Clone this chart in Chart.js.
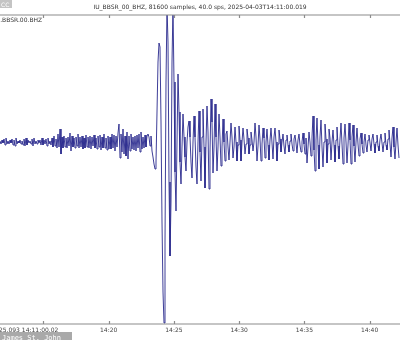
<!DOCTYPE html>
<html>
<head>
<meta charset="utf-8">
<script src="https://cdn.jsdelivr.net/npm/chart.js@4/dist/chart.umd.min.js"></script>
<style>
  html, body { margin: 0; padding: 0; background: #fff; }
  #wrap { position: relative; width: 400px; height: 340px; }
</style>
</head>
<body>
<div id="wrap"><canvas id="seismo" width="400" height="340"></canvas></div>
<script>
// trace: IU.BBSR.00.BHZ, seconds after 14:11:00, one value every 4.6 s
const traceTitle = 'IU_BBSR_00_BHZ, 81600 samples, 40.0 sps, 2025-04-03T14:11:00.019';
const traceId = 'IU.BBSR.00.BHZ';
const startSec = 40;
const stepSec = 4.6;
const counts = [
  1,-2,2,-1,3,-3,4,-2,1,-2,
  2,-1,3,-3,2,-4,4,-2,1,-1,
  2,-2,1,-3,3,-4,4,-3,2,-1,
  1,-2,3,-4,4,-2,1,-2,2,-1,
  2,-3,4,-3,2,-2,3,-4,4,-2,
  1,-3,4,-5,6,-4,3,-6,8,-5,
  13,-12,5,-6,6,-5,4,-6,5,-4,
  9,-9,6,-5,4,-6,5,-4,8,-6,
  5,-5,6,-7,4,-6,7,-5,5,-6,
  6,-7,5,-4,7,-6,4,-7,6,-5,
  7,-8,5,-6,8,-6,4,-8,6,-7,
  5,-7,8,-6,7,-9,6,-5,9,18,
  -16,8,-10,13,-12,6,-14,10,-17,6,
  -9,8,-7,5,-8,6,-9,7,-6,8,
  -10,10,-7,5,-6,7,-5,6,8,5,
  -4,6,-9,-15,-22,-27,-20,30,80,99,
  95,20,-80,-150,-181,-100,60,135,100,-40,
  -114,-60,80,135,60,-30,-69,0,68,30,
  -20,-42,-5,28,5,-15,-29,0,15,21,
  5,-20,-36,0,26,5,-25,-42,0,31,
  -10,-39,5,33,-5,-46,0,36,10,-47,
  -10,43,20,-31,-5,38,5,-29,-5,28,
  5,-24,-5,23,0,-19,8,11,-5,-18,
  0,19,5,-16,-5,15,0,-19,-3,16,
  2,-19,0,14,3,-12,-2,13,4,-12,
  -3,10,2,-9,0,19,5,-19,-4,17,
  3,-19,-2,14,4,-16,0,13,-3,-18,
  2,14,-1,-17,5,14,0,-19,-2,12,
  3,-10,0,8,-4,-12,2,7,-3,-10,
  1,8,-2,-9,3,7,-1,-11,2,8,
  -3,-10,0,9,-2,-12,4,-21,-5,10,
  0,-14,5,26,-8,-29,2,24,-3,-27,
  5,22,-5,-25,0,18,3,-21,-2,13,
  4,-18,0,12,-3,-20,2,15,-4,-17,
  3,19,-2,-22,4,18,0,-21,-3,19,
  2,-22,5,17,-4,-20,0,14,-2,-14,
  3,9,-2,-11,0,8,-3,-10,2,7,
  -1,-9,3,8,-2,-11,0,7,-4,-9,
  2,8,-1,-10,0,9,-3,-8,3,12,
  -2,-15,4,15,-5,-17,0,14,-3,-16
];
const tickSec = [240, 540, 840, 1140, 1440, 1740];
const tickLabels = ['', '14:20', '14:25', '14:30', '14:35', '14:40'];
const startLabel = '2025.093 14:11:00.02';
const startLabelSec = 0;

const points = counts.map(function (v, i) {
  return { x: startSec + i * stepSec, y: v };
});

// obspy-style frame: grey top/bottom spines, inward ticks, labels under the plot
const framePlugin = {
  id: 'frame',
  afterDraw: function (chart) {
    const ctx = chart.ctx;
    const area = chart.chartArea;
    const xs = chart.scales.x;
    ctx.save();
    ctx.strokeStyle = '#8c8c8c';
    ctx.lineWidth = 1.2;
    ctx.beginPath();
    ctx.moveTo(0, area.top); ctx.lineTo(400, area.top);
    ctx.moveTo(0, area.bottom); ctx.lineTo(400, area.bottom);
    tickSec.forEach(function (s) {
      const px = Math.round(xs.getPixelForValue(s)) + 0.5;
      ctx.moveTo(px, area.top); ctx.lineTo(px, area.top + 3);
      ctx.moveTo(px, area.bottom); ctx.lineTo(px, area.bottom - 3);
    });
    ctx.stroke();

    ctx.fillStyle = '#444';
    ctx.font = '6px "DejaVu Sans"';
    ctx.textBaseline = 'alphabetic';
    ctx.textAlign = 'center';
    tickSec.forEach(function (s, i) {
      if (tickLabels[i]) ctx.fillText(tickLabels[i], xs.getPixelForValue(s), area.bottom + 8);
    });
    ctx.textAlign = 'left';
    ctx.fillText(startLabel, xs.getPixelForValue(startLabelSec), area.bottom + 8);

    ctx.textAlign = 'center';
    ctx.fillStyle = '#333';
    ctx.fillText(traceTitle, 200, 9);

    ctx.textAlign = 'left';
    ctx.fillText(traceId, -6, 22);

    // licence badge and credit, as in the photo
    ctx.fillStyle = '#c4c4c4';
    ctx.fillRect(0, 0, 12, 8);
    ctx.fillStyle = '#fff';
    ctx.fillText('CC', 1, 6.5);
    ctx.fillStyle = '#a9a9a9';
    ctx.fillRect(0, 332, 72, 8);
    ctx.fillStyle = '#fff';
    ctx.font = '7px "DejaVu Sans Mono"';
    ctx.fillText('James St. John', 2, 339.5);
    ctx.restore();
  }
};

new Chart(document.getElementById('seismo').getContext('2d'), {
  type: 'line',
  data: {
    datasets: [{
      label: traceId,
      data: points,
      borderColor: 'rgb(40, 40, 140)',
      borderWidth: 0.9,
      pointRadius: 0,
      tension: 0,
      fill: false
    }]
  },
  options: {
    responsive: false,
    animation: false,
    layout: { padding: { top: 15, bottom: 16, left: 0, right: 0 } },
    scales: {
      x: { type: 'linear', min: 40, max: 1880, display: false },
      y: { min: -182, max: 127, display: false }
    },
    plugins: {
      legend: { display: false },
      tooltip: { enabled: false }
    }
  },
  plugins: [framePlugin]
});
</script>
</body>
</html>
